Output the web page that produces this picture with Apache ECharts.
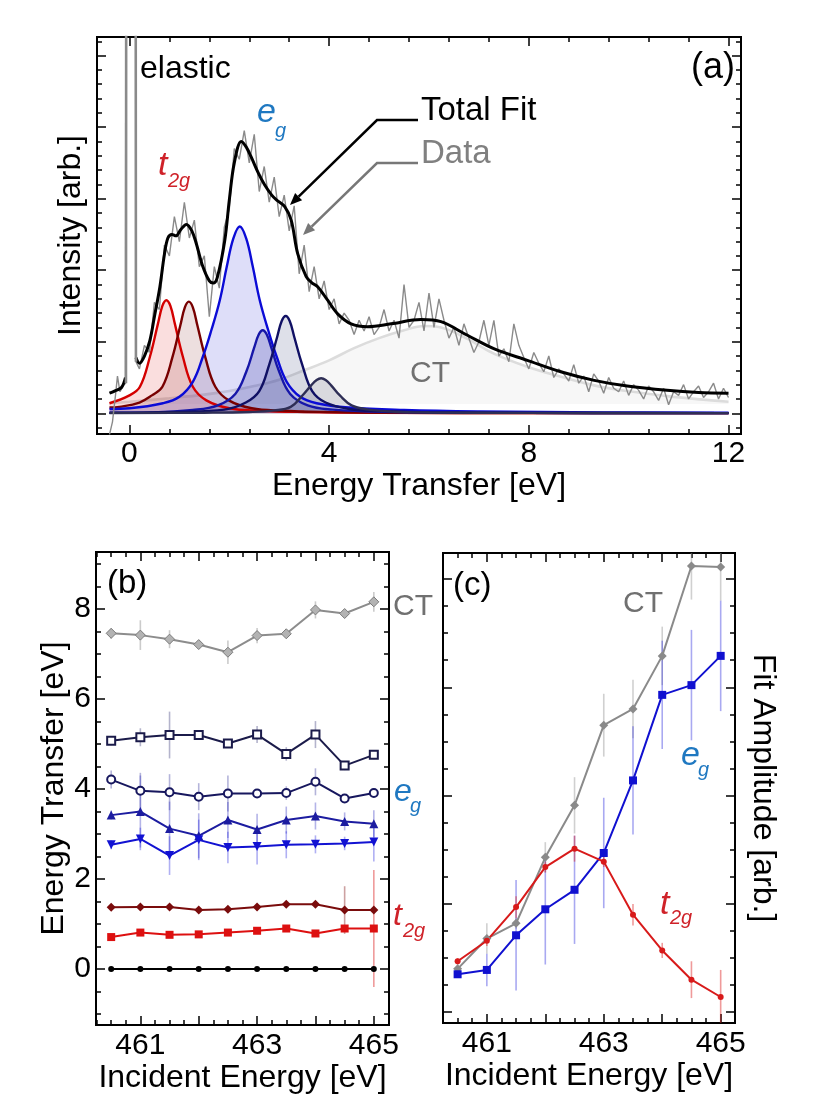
<!DOCTYPE html>
<html>
<head>
<meta charset="utf-8">
<script src="https://cdn.jsdelivr.net/npm/echarts@6.0.0/dist/echarts.min.js"></script>
<style>
html, body { margin: 0; padding: 0; background: #fff; }
#main { width: 831px; height: 1108px; }
</style>
</head>
<body>
<div id="main"></div>
<script>
// ---------- panel (a): RIXS spectrum and fit components ----------
// energy transfer [eV] / intensity [arb.]
const t2g1E = [-0.4, 0, 0.21, 0.41, 0.57, 0.66, 0.74, 0.82, 0.91, 1.07, 1.27, 1.54, 2.0, 2.6, 3.5, 5, 8, 12];
const t2g1I = [0.14, 0.25, 0.37, 0.79, 1.25, 1.5, 1.58, 1.5, 1.25, 0.79, 0.37, 0.18, 0.07, 0.035, 0.018, 0.008, 0.003, 0.0015];
const t2g2E = [-0.4, -0.2, 0.2, 0.45, 0.66, 0.86, 1.02, 1.11, 1.19, 1.27, 1.36, 1.52, 1.72, 1.99, 2.45, 3.05, 3.95, 5.45, 8, 12];
const t2g2I = [0.08, 0.09, 0.15, 0.25, 0.37, 0.78, 1.23, 1.48, 1.56, 1.48, 1.23, 0.78, 0.37, 0.18, 0.07, 0.035, 0.018, 0.008, 0.003, 0.0015];
const eg1E = [-0.4, 0, 0.67, 1.0, 1.27, 1.47, 1.64, 1.81, 1.95, 2.08, 2.21, 2.34, 2.47, 2.61, 2.78, 2.95, 3.15, 3.42, 3.75, 4.4, 5.5, 7, 9.5, 12];
const eg1I = [0.06, 0.07, 0.14, 0.23, 0.44, 0.79, 1.16, 1.58, 2.05, 2.44, 2.61, 2.44, 2.05, 1.58, 1.16, 0.79, 0.44, 0.23, 0.14, 0.08, 0.045, 0.025, 0.012, 0.007];
const eg2E = [-0.4, 0.47, 1.27, 1.77, 2.12, 2.34, 2.5, 2.59, 2.67, 2.75, 2.84, 3.0, 3.22, 3.57, 4.07, 4.87, 5.97, 7.97, 12];
const eg2I = [0.007, 0.012, 0.045, 0.11, 0.27, 0.58, 0.92, 1.1, 1.16, 1.1, 0.92, 0.58, 0.27, 0.11, 0.05, 0.024, 0.012, 0.005, 0.002];
const eg3E = [-0.4, 1.0, 1.9, 2.33, 2.6, 2.8, 2.96, 3.05, 3.13, 3.21, 3.3, 3.46, 3.66, 3.93, 4.4, 5.0, 6.0, 8, 12];
const eg3I = [0.007, 0.02, 0.05, 0.15, 0.31, 0.68, 1.07, 1.29, 1.36, 1.29, 1.07, 0.68, 0.31, 0.15, 0.06, 0.03, 0.015, 0.006, 0.002];
const eg4E = [-0.4, 1.5, 2.4, 2.9, 3.23, 3.46, 3.64, 3.75, 3.84, 3.93, 4.04, 4.22, 4.45, 4.76, 5.3, 6.0, 8, 12];
const eg4I = [0.002, 0.008, 0.018, 0.04, 0.09, 0.245, 0.39, 0.465, 0.49, 0.465, 0.39, 0.245, 0.11, 0.055, 0.022, 0.011, 0.005, 0.002];
const ctE = [-0.4, 0, 0.8, 1.5, 2.0, 2.5, 3.0, 3.5, 4.0, 4.5, 5.0, 5.5, 5.9, 6.24, 6.77, 7.31, 7.97, 8.64, 9.31, 9.97, 10.77, 11.5, 12];
const ctI = [0.14, 0.16, 0.21, 0.26, 0.31, 0.38, 0.47, 0.6, 0.74, 0.91, 1.05, 1.16, 1.22, 1.2, 1.04, 0.83, 0.65, 0.51, 0.39, 0.31, 0.24, 0.19, 0.16];
const ctBackground = 0.13;

// total fit (broken under the elastic line)
const fitLeftE = [-0.4, -0.3, -0.16, -0.08];
const fitLeftI = [0.28, 0.31, 0.36, 0.5];
const fitE = [0.13, 0.2, 0.3, 0.41, 0.5, 0.61, 0.7, 0.77, 0.85, 0.93, 1.03, 1.14, 1.25, 1.34, 1.47, 1.6, 1.68, 1.76, 1.91, 2.0, 2.1, 2.24, 2.34, 2.44, 2.58, 2.71, 2.85, 2.95, 3.11, 3.24, 3.37, 3.54, 3.66, 3.77, 3.97, 4.17, 4.44, 4.77, 5.24, 5.84, 6.24, 6.77, 7.31, 7.97, 8.64, 9.31, 9.97, 10.77, 11.4, 12.0];
const fitI = [0.78, 0.7, 0.8, 1.02, 1.35, 1.77, 2.22, 2.45, 2.5, 2.48, 2.57, 2.64, 2.55, 2.37, 2.05, 1.85, 1.82, 1.9, 2.42, 2.98, 3.5, 3.8, 3.72, 3.58, 3.36, 3.19, 3.05, 2.98, 2.89, 2.7, 2.23, 1.91, 1.82, 1.77, 1.58, 1.39, 1.25, 1.21, 1.25, 1.31, 1.28, 1.09, 0.9, 0.74, 0.58, 0.46, 0.38, 0.32, 0.29, 0.28];

// measured data
const dataLeadE = [-0.4, -0.34, -0.28, -0.24, -0.19, -0.13, -0.08];
const dataLeadI = [-0.3, -0.12, 0.25, 0.52, 0.3, 0.38, 0.42];
const elasticE = [-0.07, -0.045, 0.105, 0.13];
const elasticI = [0.42, 30, 30, 0.72];
const dataStartE = 0.2;
const dataStepE = 0.1;
const dataI = [
  0.62, 0.95, 0.85, 1.55, 1.45, 2.35, 2.2, 2.75, 2.4, 2.95,
  2.45, 2.7, 2.05, 2.2, 1.35, 2.05, 1.75, 2.6, 2.85, 3.7,
  3.55, 3.95, 3.5, 3.9, 3.1, 3.45, 2.95, 3.3, 2.75, 3.05,
  2.55, 2.9, 1.95, 2.35, 1.7, 2.05, 1.6, 1.85, 1.45, 1.6,
  1.25, 1.4, 1.3, 1.1, 1.3, 1.15, 1.35, 1.1, 1.2, 1.45,
  1.15, 1.3, 1.05, 1.8, 1.2, 1.3, 1.55, 1.15, 1.68, 1.2,
  1.6, 1.3, 1.05, 1.2, 0.95, 1.25, 1.05, 0.85, 1.0, 1.3,
  0.95, 1.3, 0.8, 0.9, 0.72, 1.25, 0.95, 0.78, 0.62, 0.85,
  0.7, 0.58, 0.8, 0.5, 0.62, 0.55, 0.45, 0.68, 0.42, 0.52,
  0.3, 0.55, 0.45, 0.28, 0.5, 0.35, 0.3, 0.45, 0.25, 0.4,
  0.32, 0.2, 0.38, 0.3, 0.18, 0.35, 0.12, 0.3, 0.25, 0.4,
  0.2, 0.3, 0.38, 0.22, 0.3, 0.42, 0.2, 0.35, 0.22
];

// ---------- panels (b) and (c) ----------
const incident = [460.5, 461, 461.5, 462, 462.5, 463, 463.5, 464, 464.5, 465];
// (b) peak positions [eV] and errors
const bCT = [7.46, 7.42, 7.33, 7.21, 7.04, 7.41, 7.45, 7.98, 7.9, 8.16];
const bCTErr = [0.12, 0.33, 0.2, 0.1, 0.26, 0.17, 0.1, 0.19, 0.1, 0.22];
const bEg4 = [5.07, 5.15, 5.2, 5.2, 5.01, 5.21, 4.78, 5.21, 4.52, 4.76];
const bEg4Err = [0.1, 0.2, 0.52, 0.1, 0.1, 0.19, 0.15, 0.3, 0.1, 0.1];
const bEg3 = [4.21, 3.96, 3.93, 3.83, 3.9, 3.9, 3.91, 4.16, 3.79, 3.91];
const bEg3Err = [0.2, 0.4, 0.4, 0.3, 0.4, 0.1, 0.15, 0.3, 0.1, 0.1];
const bEg2 = [3.42, 3.5, 3.12, 2.96, 3.31, 3.1, 3.31, 3.4, 3.28, 3.23];
const bEg2Err = [0.1, 0.8, 0.6, 0.5, 0.4, 0.35, 0.3, 0.3, 0.2, 0.3];
const bEg1 = [2.76, 2.89, 2.52, 2.87, 2.7, 2.72, 2.76, 2.77, 2.79, 2.82];
const bEg1Err = [0.1, 0.25, 0.43, 0.45, 0.35, 0.4, 0.3, 0.2, 0.15, 0.43];
const bT2g2 = [1.37, 1.38, 1.38, 1.31, 1.33, 1.38, 1.44, 1.44, 1.31, 1.31];
const bT2g2Err = [0.05, 0.05, 0.05, 0.05, 0.05, 0.05, 0.05, 0.05, 0.53, 0.05];
const bT2g1 = [0.71, 0.81, 0.76, 0.77, 0.81, 0.85, 0.9, 0.79, 0.9, 0.9];
const bT2g1Err = [0.05, 0.05, 0.05, 0.05, 0.05, 0.05, 0.05, 0.05, 0.05, 1.3];
const bElastic = [0, 0, 0, 0, 0, 0, 0, 0, 0, 0];
// (c) fit amplitudes [arb.] and errors
const cCT = [0.4, 0.68, 0.82, 1.43, 1.91, 2.65, 2.8, 3.29, 4.12, 4.11];
const cCTErr = [0.05, 0.14, 0.05, 0.14, 0.26, 0.29, 0.27, 0.27, 0.31, 0.31];
const cEg = [0.35, 0.39, 0.71, 0.95, 1.13, 1.47, 2.14, 2.93, 3.02, 3.29];
const cEgErr = [0.03, 0.15, 0.51, 0.51, 0.5, 0.51, 0.5, 0.5, 0.51, 0.51];
const cT2g = [0.47, 0.66, 0.97, 1.34, 1.51, 1.39, 0.9, 0.57, 0.3, 0.14];
const cT2gErr = [0.03, 0.05, 0.1, 0.05, 0.12, 0.05, 0.1, 0.07, 0.17, 0.25];

// tick labels
const aXLabels = [0, 4, 8, 12];
const aYMajor = [0, 1, 2, 3, 4, 5];
const incLabels = [461, 463, 465];
const incMajor = [461, 462, 463, 464, 465];
const bYLabels = [0, 2, 4, 6, 8];
const cYMajor = [0, 1, 2, 3, 4];

const FONT = '"Liberation Sans", Arial, Helvetica, sans-serif';
const zip = (xs, ys) => xs.map((x, i) => [x, ys[i]]);

function minorTicks(min, max, step, major) {
  const out = [];
  const n0 = Math.ceil(min / step - 1e-9), n1 = Math.floor(max / step + 1e-9);
  for (let n = n0; n <= n1; n++) {
    const v = +(n * step).toFixed(4);
    if (major.indexOf(v) < 0) out.push(v);
  }
  return out;
}

// four axes per dimension so the frame gets inward ticks on every side
function frameAxes(grid, dim, min, max, major, minor, mainExtra, oppExtra) {
  const sides = dim === 'x' ? ['bottom', 'top'] : ['left', 'right'];
  const base = (pos, ticks, len) => ({
    type: 'value', gridIndex: grid, position: pos, min: min, max: max,
    axisLine: { show: true, onZero: false, lineStyle: { color: '#000', width: 2 } },
    axisTick: { show: true, inside: true, length: len, customValues: ticks, lineStyle: { color: '#000', width: 1.5 } },
    axisLabel: { show: false },
    splitLine: { show: false },
    axisPointer: { show: false }
  });
  return [
    Object.assign(base(sides[0], major, 9), mainExtra || {}),
    Object.assign(base(sides[1], major, 9), oppExtra || {}),
    base(sides[0], minor, 5),
    base(sides[1], minor, 5)
  ];
}
const lbl = (vals, margin) => ({ axisLabel: { show: true, customValues: vals, margin: margin, color: '#000', fontSize: 30, fontFamily: FONT } });
const nm = (text, gap, rot) => ({ name: text, nameLocation: 'middle', nameGap: gap, nameRotate: rot, nameTextStyle: { color: '#000', fontSize: 32, fontFamily: FONT } });

const aX = [-0.65, 12.25], aY = [-0.29, 5.26];
const bX = [460.24, 465.26], bY = [-1.244, 9.267];
const cX = [460.25, 465.245], cY = [-0.10, 4.24];

const xAxes = [].concat(
  frameAxes(0, 'x', aX[0], aX[1], aXLabels, minorTicks(aX[0], aX[1], 0.8, aXLabels), Object.assign(lbl(aXLabels, 5), nm('Energy Transfer [eV]', 34, 0))),
  frameAxes(1, 'x', bX[0], bX[1], incMajor, minorTicks(bX[0], bX[1], 0.25, incMajor), Object.assign(lbl(incLabels, 6), nm('Incident Energy [eV]', 34, 0))),
  frameAxes(2, 'x', cX[0], cX[1], incMajor, minorTicks(cX[0], cX[1], 0.25, incMajor), Object.assign(lbl(incLabels, 6), nm('Incident Energy [eV]', 34, 0)))
);
const yAxes = [].concat(
  frameAxes(0, 'y', aY[0], aY[1], aYMajor, minorTicks(aY[0], aY[1], 0.2, aYMajor), nm('Intensity [arb.]', 10, 90)),
  frameAxes(1, 'y', bY[0], bY[1], bYLabels, minorTicks(bY[0], bY[1], 0.5, bYLabels), Object.assign(lbl(bYLabels, 5), nm('Energy Transfer [eV]', 23, 90))),
  frameAxes(2, 'y', cY[0], cY[1], cYMajor, minorTicks(cY[0], cY[1], 0.25, cYMajor), null, nm('Fit Amplitude [arb.]', 12, -90))
);

// ---------- series ----------
function comp(E, I, line, fill, z) {
  return {
    type: 'line', xAxisIndex: 0, yAxisIndex: 0, data: zip(E, I), smooth: 0.4, symbol: 'none',
    lineStyle: { color: line, width: 2.4 }, areaStyle: { color: fill }, z: z, silent: true
  };
}
const dataTrace = zip(dataLeadE, dataLeadI)
  .concat(zip(elasticE, elasticI))
  .concat(dataI.map((v, i) => [+(dataStartE + i * dataStepE).toFixed(2), v]));

const seriesA = [
  {
    type: 'line', xAxisIndex: 0, yAxisIndex: 0, data: zip(ctE, ctI), smooth: 0.4, symbol: 'none',
    lineStyle: { color: '#dcdcdc', width: 2.6 }, areaStyle: { color: '#f4f4f4', origin: ctBackground }, z: 2, silent: true
  },
  comp(t2g1E, t2g1I, '#d40000', 'rgba(220,40,40,0.22)', 3),
  comp(t2g2E, t2g2I, '#780000', 'rgba(130,30,30,0.2)', 3),
  comp(eg1E, eg1I, '#0b0bd6', 'rgba(40,40,215,0.22)', 3),
  comp(eg2E, eg2I, '#1616a8', 'rgba(30,30,150,0.28)', 3),
  comp(eg3E, eg3I, '#101064', 'rgba(40,50,110,0.22)', 3),
  comp(eg4E, eg4I, '#2e2e55', 'rgba(50,50,85,0.22)', 3),
  {
    type: 'line', xAxisIndex: 0, yAxisIndex: 0, data: dataTrace, symbol: 'none',
    lineStyle: { color: '#8a8a8a', width: 1.4 }, z: 4, silent: true
  },
  {
    type: 'line', xAxisIndex: 0, yAxisIndex: 0,
    data: zip(fitLeftE, fitLeftI).concat([[0.03, null]], zip(fitE, fitI)),
    smooth: 0.35, symbol: 'none', connectNulls: false,
    lineStyle: { color: '#000', width: 3 }, z: 5, silent: true
  },
  {
    type: 'line', xAxisIndex: 0, yAxisIndex: 0, data: zip(elasticE, elasticI), symbol: 'none',
    lineStyle: { color: '#8a8a8a', width: 2.6 }, z: 6, silent: true
  }
];

function errBars(xi, yi, ys, es, color) {
  return {
    type: 'custom', xAxisIndex: xi, yAxisIndex: yi, clip: true, z: 1, silent: true,
    data: incident.map((x, i) => [x, ys[i] - es[i], ys[i] + es[i]]),
    encode: { x: 0, y: [1, 2] },
    renderItem: function (params, api) {
      const a = api.coord([api.value(0), api.value(1)]);
      const b = api.coord([api.value(0), api.value(2)]);
      return { type: 'line', shape: { x1: a[0], y1: a[1], x2: b[0], y2: b[1] }, style: { stroke: color, lineWidth: 1.6 } };
    }
  };
}
function pts(xi, yi, ys, color, symbol, size, extra) {
  return Object.assign({
    type: 'line', xAxisIndex: xi, yAxisIndex: yi, data: zip(incident, ys),
    symbol: symbol, symbolSize: size, showSymbol: true,
    lineStyle: { color: color, width: 2 }, itemStyle: { color: color }, z: 3, silent: true
  }, extra || {});
}

const seriesB = [
  errBars(4, 4, bCT, bCTErr, 'rgba(140,140,140,0.45)'),
  errBars(4, 4, bEg4, bEg4Err, 'rgba(40,40,110,0.35)'),
  errBars(4, 4, bEg3, bEg3Err, 'rgba(40,40,150,0.35)'),
  errBars(4, 4, bEg2, bEg2Err, 'rgba(40,40,190,0.35)'),
  errBars(4, 4, bEg1, bEg1Err, 'rgba(30,30,220,0.35)'),
  errBars(4, 4, bT2g2, bT2g2Err, 'rgba(130,20,20,0.4)'),
  errBars(4, 4, bT2g1, bT2g1Err, 'rgba(220,30,30,0.45)'),
  pts(4, 4, bCT, '#8c8c8c', 'diamond', 10, { itemStyle: { color: '#b3b3b3', borderColor: '#7c7c7c', borderWidth: 1 } }),
  pts(4, 4, bEg4, '#1b1b4a', 'emptyRect', 8),
  pts(4, 4, bEg3, '#17175e', 'emptyCircle', 8),
  pts(4, 4, bEg2, '#1c1ca0', 'triangle', 9),
  pts(4, 4, bEg1, '#1212d2', 'triangle', 9, { symbolRotate: 180 }),
  pts(4, 4, bT2g2, '#7a0c0c', 'diamond', 9),
  pts(4, 4, bT2g1, '#dd1010', 'rect', 8),
  pts(4, 4, bElastic, '#000', 'circle', 6)
];
const seriesC = [
  errBars(8, 8, cCT, cCTErr, 'rgba(150,150,150,0.45)'),
  errBars(8, 8, cEg, cEgErr, 'rgba(40,40,220,0.4)'),
  errBars(8, 8, cT2g, cT2gErr, 'rgba(220,30,30,0.45)'),
  pts(8, 8, cCT, '#8a8a8a', 'diamond', 9),
  pts(8, 8, cEg, '#1010d0', 'rect', 8),
  pts(8, 8, cT2g, '#d81a1a', 'circle', 6)
];

// ---------- annotations ----------
function txt(x, y, text, size, color, opts) {
  opts = opts || {};
  return {
    type: 'text', x: x, y: y, z: 100, silent: true,
    style: {
      text: text, fill: color,
      font: (opts.italic ? 'italic ' : '') + size + 'px ' + FONT,
      align: opts.align || 'left', textAlign: opts.align || 'left',
      verticalAlign: 'middle', textVerticalAlign: 'middle'
    }
  };
}
const EG = '#1f78c1', T2G = '#cf2229', GRAY = '#707070';
const graphics = [
  txt(140, 69, 'elastic', 32, '#000'),
  txt(735, 68, '(a)', 36, '#000', { align: 'right' }),
  txt(421, 111, 'Total Fit', 33, '#000'),
  txt(421, 154, 'Data', 33, '#808080'),
  txt(257, 113, 'e', 34, EG, { italic: true }),
  txt(275, 131, 'g', 20, EG, { italic: true }),
  txt(158, 166, 't', 34, T2G, { italic: true }),
  txt(168, 181, '2g', 20, T2G, { italic: true }),
  txt(410, 374, 'CT', 30, GRAY),
  { type: 'polyline', z: 100, silent: true, shape: { points: [[418, 120], [377, 120], [298.6, 196.6]] }, style: { stroke: '#000', lineWidth: 2.5, fill: null } },
  { type: 'polygon', z: 100, silent: true, shape: { points: [[290, 205], [302.1, 200.2], [295.1, 193.0]] }, style: { fill: '#000' } },
  { type: 'polyline', z: 100, silent: true, shape: { points: [[418, 163], [377, 163], [311.6, 226.6]] }, style: { stroke: '#777', lineWidth: 2.5, fill: null } },
  { type: 'polygon', z: 100, silent: true, shape: { points: [[303, 235], [315.1, 230.2], [308.1, 223.0]] }, style: { fill: '#777' } },

  txt(107, 584, '(b)', 33, '#000'),
  txt(393, 607, 'CT', 30, GRAY),
  txt(394, 792, 'e', 32, EG, { italic: true }),
  txt(410, 806, 'g', 20, EG, { italic: true }),
  txt(393, 916, 't', 32, T2G, { italic: true }),
  txt(403, 931, '2g', 20, T2G, { italic: true }),

  txt(453, 586, '(c)', 33, '#000'),
  txt(623, 604, 'CT', 30, GRAY),
  txt(681, 756, 'e', 34, EG, { italic: true }),
  txt(698, 770, 'g', 20, EG, { italic: true }),
  txt(660, 905, 't', 34, T2G, { italic: true }),
  txt(670, 918, '2g', 20, T2G, { italic: true })
];

const chart = echarts.init(document.getElementById('main'), null, { renderer: 'canvas' });
chart.setOption({
  animation: false,
  backgroundColor: '#fff',
  grid: [
    { left: 97, top: 37, width: 644, height: 397, containLabel: false, outerBoundsMode: 'none' },
    { left: 96, top: 552, width: 293, height: 473, containLabel: false, outerBoundsMode: 'none' },
    { left: 443, top: 553, width: 292, height: 470, containLabel: false, outerBoundsMode: 'none' }
  ],
  xAxis: xAxes,
  yAxis: yAxes,
  series: seriesA.concat(seriesB, seriesC),
  graphic: graphics
});
</script>
</body>
</html>
